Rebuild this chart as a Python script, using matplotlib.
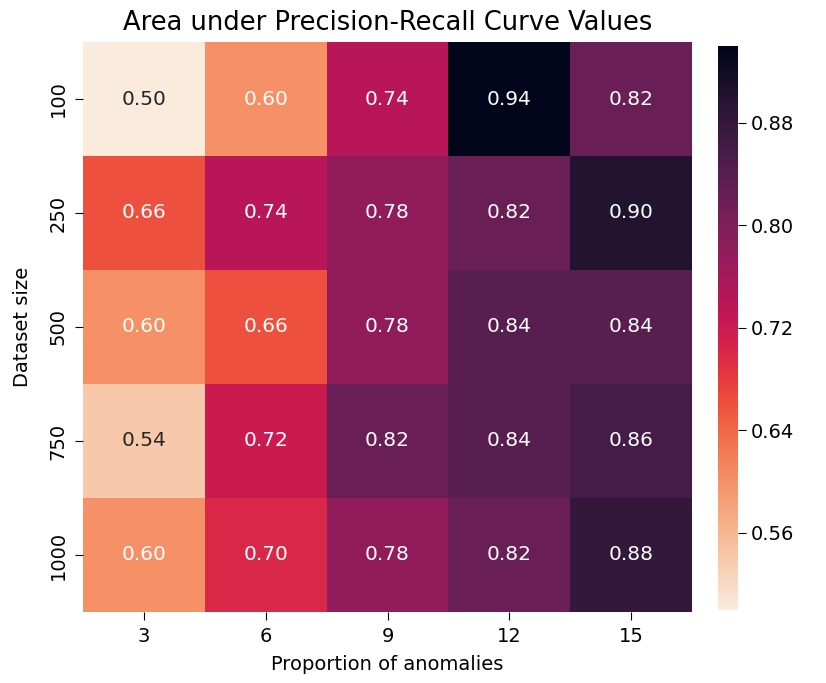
import matplotlib
matplotlib.use("Agg")
import matplotlib.pyplot as plt
import seaborn as sns
import numpy as np
import pandas as pd

# dataset sizes (rows) and anomaly proportions (columns)
sizes = [100, 250, 500, 750, 1000]
props = [3, 6, 9, 12, 15]

auc_100 = [0.50, 0.60, 0.74, 0.94, 0.82]
auc_250 = [0.66, 0.74, 0.78, 0.82, 0.90]
auc_500 = [0.60, 0.66, 0.78, 0.84, 0.84]
auc_750 = [0.54, 0.72, 0.82, 0.84, 0.86]
auc_1000 = [0.60, 0.70, 0.78, 0.82, 0.88]

cbar_ticks = [0.56, 0.64, 0.72, 0.80, 0.88]

df = pd.DataFrame([auc_100, auc_250, auc_500, auc_750, auc_1000], index=sizes, columns=props)

fig = plt.figure(figsize=(8.26, 6.83), dpi=100)
ax = fig.add_axes([0.1005, 0.104, 0.7373, 0.8345])
cax = fig.add_axes([0.869, 0.107, 0.0242, 0.826])

sns.heatmap(df, annot=True, fmt=".2f", cmap="rocket_r", ax=ax, cbar_ax=cax,
            annot_kws={"size": 14.5}, cbar_kws={"ticks": cbar_ticks})

ax.set_title("Area under Precision-Recall Curve Values", fontsize=18.5, pad=9)
ax.set_xlabel("Proportion of anomalies", fontsize=14, labelpad=6)
ax.set_ylabel("Dataset size", fontsize=14, labelpad=12)
ax.tick_params(labelsize=14, length=6, pad=5)
cax.tick_params(labelsize=14, length=6)
cax.set_yticklabels(["%.2f" % t for t in cbar_ticks])

fig.savefig("out.png", dpi=100)
